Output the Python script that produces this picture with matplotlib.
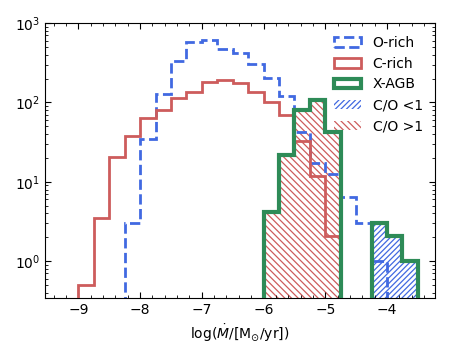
import numpy as np
import matplotlib
matplotlib.use('Agg')
import matplotlib.pyplot as plt

# bin edges of the mass-loss rate histograms (log Mdot, width 0.25 dex)
edges = np.arange(-9.25, -3.49, 0.25)

# counts per bin
o_rich = [0, 0, 0, 0, 3.0, 35, 126, 335, 584, 613, 473, 418, 304,
          203, 122, 42, 17.4, 12.4, 6.5, 3.0, 1.0, 0, 0]
c_rich = [0, 0.5, 3.5, 20.5, 38, 64, 81, 115, 137, 180, 192, 176, 134,
          100, 70, 33, 12, 2.05, 0, 0, 0, 0, 0]
x_agb = [0, 0, 0, 0, 0, 0, 0, 0, 0, 0, 0, 0, 0,
         4.2, 21.5, 80, 107, 43, 0, 0, 3.0, 2.05, 1.0]
# X-AGB split by C/O ratio
co_lt1 = [0]*20 + [3.0, 2.05, 1.0]
co_gt1 = [0]*13 + [4.2, 21.5, 80, 107, 43] + [0]*5

centres = 0.5 * (edges[:-1] + edges[1:])

plt.rcParams['hatch.linewidth'] = 0.9

fig = plt.figure(figsize=(4.5, 3.5), dpi=100)
ax = fig.add_axes([0.1, 0.149, 0.867, 0.785])

# hatched fills first so the outlines sit on top
ax.hist(centres, bins=edges, weights=co_lt1, histtype='stepfilled', fill=False,
        hatch='//////', edgecolor='royalblue', lw=0, label='C/O <1', zorder=1)
ax.hist(centres, bins=edges, weights=co_gt1, histtype='stepfilled', fill=False,
        hatch='\\\\\\\\\\', edgecolor='indianred', lw=0, label='C/O >1', zorder=1)

ax.hist(centres, bins=edges, weights=o_rich, histtype='step', color='royalblue',
        lw=2, ls='--', label='O-rich', zorder=2)
ax.hist(centres, bins=edges, weights=c_rich, histtype='step', color='indianred',
        lw=2, label='C-rich', zorder=3)
ax.hist(centres, bins=edges, weights=x_agb, histtype='step', color='seagreen',
        lw=3, label='X-AGB', zorder=4)

ax.set_yscale('log')
ax.set_ylim(0.345, 1000)
ax.set_xlim(-9.54, -3.22)
ax.set_xticks([-9, -8, -7, -6, -5, -4])
ax.minorticks_on()
ax.tick_params(which='both', direction='in', top=True, right=True)
ax.tick_params(which='major', length=4)
ax.tick_params(which='minor', length=2)

ax.set_xlabel(r'$\log(\dot{M}/[\mathrm{M}_{\odot}/\mathrm{yr}])$')

# legend in the order of the original
h, l = ax.get_legend_handles_labels()
order = ['O-rich', 'C-rich', 'X-AGB', 'C/O <1', 'C/O >1']
hd = dict(zip(l, h))
ax.legend([hd[k] for k in order], order, loc='upper right', frameon=False,
          fontsize=10)

fig.savefig('out.png')
